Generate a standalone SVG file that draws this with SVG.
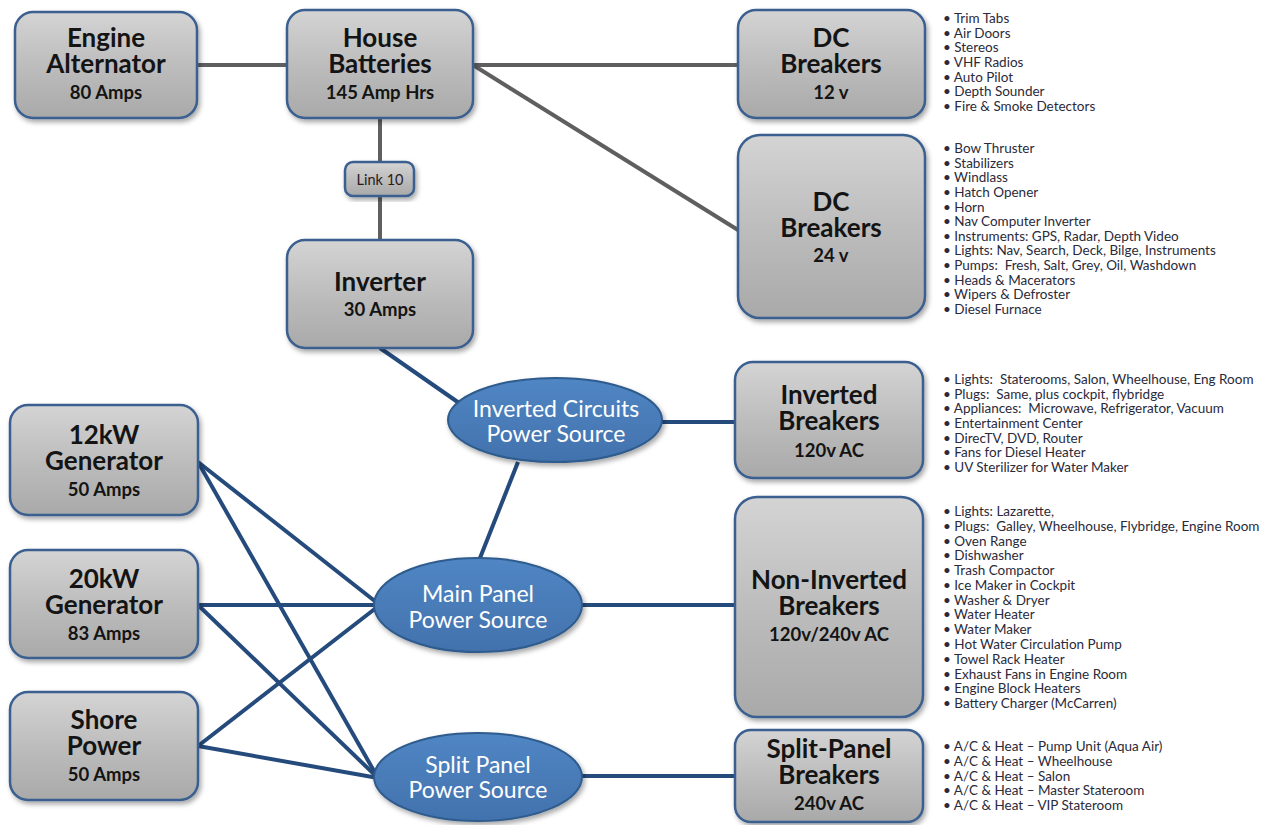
<svg xmlns="http://www.w3.org/2000/svg" width="1272" height="825" viewBox="0 0 1272 825">
<defs>
<linearGradient id="gbox" x1="0" y1="0" x2="0" y2="1">
<stop offset="0" stop-color="#d4d4d4"/>
<stop offset="0.5" stop-color="#bdbdbd"/>
<stop offset="1" stop-color="#a9a9a9"/>
</linearGradient>
<linearGradient id="gell" x1="0" y1="0" x2="0" y2="1">
<stop offset="0" stop-color="#5086c4"/>
<stop offset="1" stop-color="#4272ad"/>
</linearGradient>
<filter id="sh" x="-10%" y="-10%" width="125%" height="125%">
<feDropShadow dx="2" dy="3" stdDeviation="2.5" flood-color="#000" flood-opacity="0.35"/>
</filter>
</defs>
<style>
.box{fill:url(#gbox);stroke:#3a5f8f;stroke-width:2.5;filter:url(#sh)}
.ell{fill:url(#gell);stroke:#2f5b8d;stroke-width:2;filter:url(#sh)}
.t{font-family:Lato,"Liberation Sans",sans-serif;font-weight:bold;font-size:26px;fill:#141414;text-anchor:middle}
.s{font-size:18.5px}
.e{font-family:Lato,"Liberation Sans",sans-serif;font-size:23px;fill:#ffffff;text-anchor:middle}
.l{font-family:Lato,"Liberation Sans",sans-serif;font-size:13.5px;fill:#2a2a3a}
.g{stroke:#5f5f5f;stroke-width:4;fill:none}
.b{stroke:#254a7c;stroke-width:4;fill:none}
</style>
<g id="connectors">
<line class="g" x1="197" y1="65" x2="287" y2="65"/>
<line class="g" x1="473" y1="65" x2="738" y2="65"/>
<line class="g" x1="473" y1="65" x2="738" y2="230"/>
<line class="g" x1="380" y1="118" x2="380" y2="240"/>
<line class="b" x1="380" y1="348" x2="462" y2="405"/>
<line class="b" x1="660" y1="422" x2="735" y2="422"/>
<line class="b" x1="480" y1="558" x2="518" y2="462"/>
<line class="b" x1="580" y1="605" x2="735" y2="605"/>
<line class="b" x1="580" y1="776" x2="735" y2="776"/>
<line class="b" x1="198" y1="462" x2="376" y2="602"/>
<line class="b" x1="198" y1="462" x2="378" y2="778"/>
<line class="b" x1="198" y1="605" x2="376" y2="605"/>
<line class="b" x1="198" y1="605" x2="378" y2="778"/>
<line class="b" x1="198" y1="746" x2="376" y2="608"/>
<line class="b" x1="198" y1="746" x2="378" y2="778"/>
</g>
<g id="engine-alternator">
<rect class="box" x="15" y="12" width="182" height="106" rx="18"/>
<text class="t"><tspan x="106" y="47">Engine</tspan><tspan x="106" y="73">Alternator</tspan><tspan class="s" x="106" y="99">80 Amps</tspan></text>
</g>
<g id="house-batteries">
<rect class="box" x="287" y="10" width="186" height="108" rx="18"/>
<text class="t"><tspan x="380" y="47">House</tspan><tspan x="380" y="73">Batteries</tspan><tspan class="s" x="380" y="99">145 Amp Hrs</tspan></text>
</g>
<g id="link10">
<rect class="box" x="345" y="162" width="69" height="34" rx="8"/>
<text class="t" x="380" y="185" style="font-size:14.5px;font-weight:normal;fill:#2a1a1a">Link 10</text>
</g>
<g id="inverter">
<rect class="box" x="287" y="240" width="186" height="108" rx="18"/>
<text class="t"><tspan x="380" y="291">Inverter</tspan><tspan class="s" x="380" y="316">30 Amps</tspan></text>
</g>
<g id="dc12">
<rect class="box" x="738" y="10" width="187" height="108" rx="18"/>
<text class="t"><tspan x="831" y="47">DC</tspan><tspan x="831" y="73">Breakers</tspan><tspan class="s" x="831" y="99">12 v</tspan></text>
</g>
<g id="dc12-list" class="l">
<text x="943" y="23">• Trim Tabs</text>
<text x="943" y="37.7">• Air Doors</text>
<text x="943" y="52.3">• Stereos</text>
<text x="943" y="67">• VHF Radios</text>
<text x="943" y="81.7">• Auto Pilot</text>
<text x="943" y="96.3">• Depth Sounder</text>
<text x="943" y="111">• Fire &amp; Smoke Detectors</text>
</g>
<g id="dc24">
<rect class="box" x="738" y="135" width="187" height="183" rx="22"/>
<text class="t"><tspan x="831" y="211">DC</tspan><tspan x="831" y="237">Breakers</tspan><tspan class="s" x="831" y="262">24 v</tspan></text>
</g>
<g id="dc24-list" class="l">
<text x="943" y="153">• Bow Thruster</text>
<text x="943" y="167.6">• Stabilizers</text>
<text x="943" y="182.3">• Windlass</text>
<text x="943" y="196.9">• Hatch Opener</text>
<text x="943" y="211.5">• Horn</text>
<text x="943" y="226.2">• Nav Computer Inverter</text>
<text x="943" y="240.8">• Instruments: GPS, Radar, Depth Video</text>
<text x="943" y="255.4">• Lights: Nav, Search, Deck, Bilge, Instruments</text>
<text x="943" y="270" xml:space="preserve">• Pumps:  Fresh, Salt, Grey, Oil, Washdown</text>
<text x="943" y="284.7">• Heads &amp; Macerators</text>
<text x="943" y="299.3">• Wipers &amp; Defroster</text>
<text x="943" y="314">• Diesel Furnace</text>
</g>
<g id="inverted-source">
<ellipse class="ell" cx="555" cy="420" rx="107" ry="42"/>
<text class="e"><tspan x="556" y="417">Inverted Circuits</tspan><tspan x="556" y="442">Power Source</tspan></text>
</g>
<g id="inverted-breakers">
<rect class="box" x="735" y="362" width="188" height="116" rx="18"/>
<text class="t"><tspan x="829" y="404">Inverted</tspan><tspan x="829" y="430">Breakers</tspan><tspan class="s" x="829" y="457">120v AC</tspan></text>
</g>
<g id="inverted-list" class="l">
<text x="943" y="384" xml:space="preserve">• Lights:  Staterooms, Salon, Wheelhouse, Eng Room</text>
<text x="943" y="398.7" xml:space="preserve">• Plugs:  Same, plus cockpit, flybridge</text>
<text x="943" y="413.3" xml:space="preserve">• Appliances:  Microwave, Refrigerator, Vacuum</text>
<text x="943" y="428">• Entertainment Center</text>
<text x="943" y="442.7">• DirecTV, DVD, Router</text>
<text x="943" y="457.3">• Fans for Diesel Heater</text>
<text x="943" y="472">• UV Sterilizer for Water Maker</text>
</g>
<g id="gen12">
<rect class="box" x="10" y="405" width="188" height="110" rx="18"/>
<text class="t"><tspan x="104" y="444">12kW</tspan><tspan x="104" y="470">Generator</tspan><tspan class="s" x="104" y="496">50 Amps</tspan></text>
</g>
<g id="gen20">
<rect class="box" x="10" y="550" width="188" height="108" rx="18"/>
<text class="t"><tspan x="104" y="588">20kW</tspan><tspan x="104" y="614">Generator</tspan><tspan class="s" x="104" y="640">83 Amps</tspan></text>
</g>
<g id="shore">
<rect class="box" x="10" y="692" width="188" height="108" rx="18"/>
<text class="t"><tspan x="104" y="729">Shore</tspan><tspan x="104" y="755">Power</tspan><tspan class="s" x="104" y="781">50 Amps</tspan></text>
</g>
<g id="main-source">
<ellipse class="ell" cx="478" cy="605" rx="104" ry="47"/>
<text class="e"><tspan x="478" y="602">Main Panel</tspan><tspan x="478" y="628">Power Source</tspan></text>
</g>
<g id="split-source">
<ellipse class="ell" cx="478" cy="777" rx="104" ry="44"/>
<text class="e"><tspan x="478" y="773">Split Panel</tspan><tspan x="478" y="798">Power Source</tspan></text>
</g>
<g id="noninverted-breakers">
<rect class="box" x="735" y="497" width="188" height="220" rx="22"/>
<text class="t"><tspan x="829" y="589">Non-Inverted</tspan><tspan x="829" y="615">Breakers</tspan><tspan class="s" x="829" y="641">120v/240v AC</tspan></text>
</g>
<g id="noninverted-list" class="l">
<text x="943" y="516">• Lights: Lazarette,</text>
<text x="943" y="530.8" xml:space="preserve">• Plugs:  Galley, Wheelhouse, Flybridge, Engine Room</text>
<text x="943" y="545.5">• Oven Range</text>
<text x="943" y="560.3">• Dishwasher</text>
<text x="943" y="575.1">• Trash Compactor</text>
<text x="943" y="589.8">• Ice Maker in Cockpit</text>
<text x="943" y="604.6">• Washer &amp; Dryer</text>
<text x="943" y="619.4">• Water Heater</text>
<text x="943" y="634.2">• Water Maker</text>
<text x="943" y="648.9">• Hot Water Circulation Pump</text>
<text x="943" y="663.7">• Towel Rack Heater</text>
<text x="943" y="678.5">• Exhaust Fans in Engine Room</text>
<text x="943" y="693.2">• Engine Block Heaters</text>
<text x="943" y="708">• Battery Charger (McCarren)</text>
</g>
<g id="split-breakers">
<rect class="box" x="735" y="730" width="188" height="92" rx="16"/>
<text class="t"><tspan x="829" y="758">Split-Panel</tspan><tspan x="829" y="784">Breakers</tspan><tspan class="s" x="829" y="810">240v AC</tspan></text>
</g>
<g id="split-list" class="l">
<text x="943" y="751">• A/C &amp; Heat – Pump Unit (Aqua Air)</text>
<text x="943" y="765.8">• A/C &amp; Heat – Wheelhouse</text>
<text x="943" y="780.5">• A/C &amp; Heat – Salon</text>
<text x="943" y="795.3">• A/C &amp; Heat – Master Stateroom</text>
<text x="943" y="810">• A/C &amp; Heat – VIP Stateroom</text>
</g>
</svg>
